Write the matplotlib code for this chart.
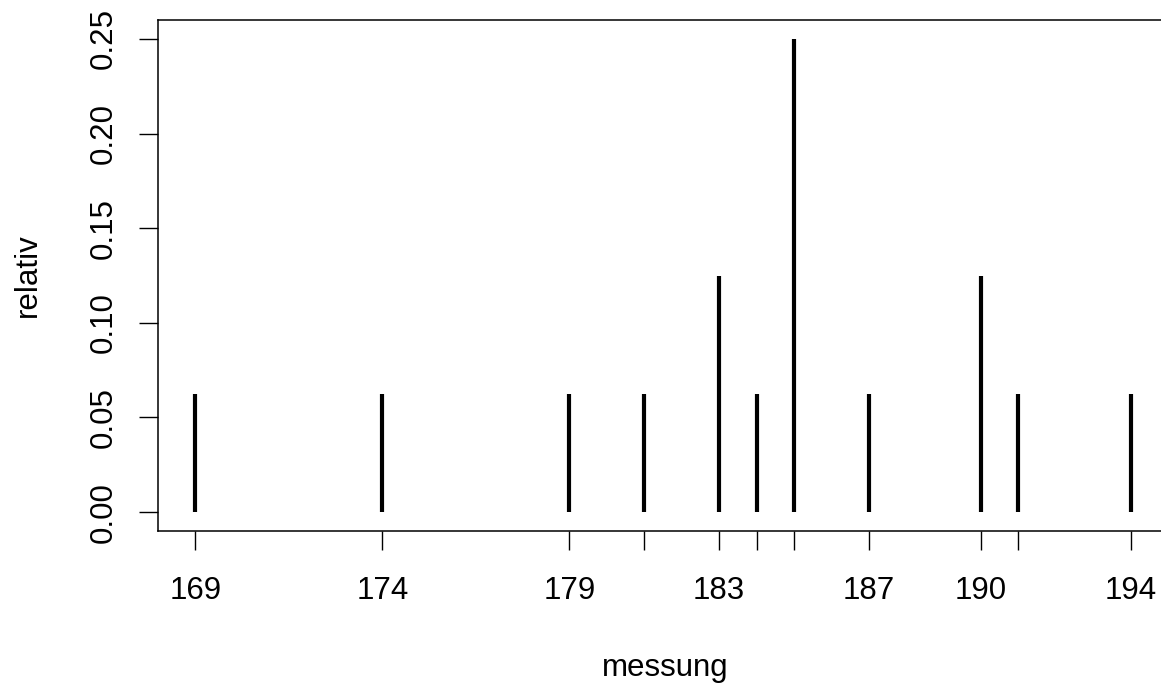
import numpy as np
import matplotlib
matplotlib.use("Agg")
from matplotlib import pyplot as plt

# messwerte und relative haeufigkeiten
messung = [169, 174, 179, 181, 183, 184, 185, 187, 190, 191, 194]
anzahl = [1, 1, 1, 1, 2, 1, 4, 1, 2, 1, 1]
beschriftet = [169, 174, 179, 183, 187, 190, 194]
y_ticks = [0.00, 0.05, 0.10, 0.15, 0.20, 0.25]


def main():
    relativ = np.array(anzahl) / sum(anzahl)

    plt.rcParams['font.family'] = ['Liberation Sans', 'DejaVu Sans']
    fig = plt.figure(figsize=(11.61, 6.85), dpi=100)
    ax = fig.add_axes([158 / 1161, 154 / 685, 1010 / 1161, 511 / 685])

    ax.vlines(messung, 0, relativ, colors='black', linewidth=3.0,
              capstyle='butt')

    ax.set_xlim(168, 195)
    ax.set_ylim(-0.01, 0.26)

    ax.set_xticks(messung)
    ax.set_xticklabels([str(m) if m in beschriftet else '' for m in messung])
    ax.set_yticks(y_ticks)
    ax.set_yticklabels(['%.2f' % v for v in y_ticks], rotation=90,
                       va='center')

    ax.tick_params(axis='both', length=14, width=1.0, labelsize=22.5,
                   direction='out', color='black')
    ax.tick_params(axis='x', pad=18.5)
    ax.tick_params(axis='y', pad=14)
    for sp in ax.spines.values():
        sp.set_linewidth(1.1)

    fig.text(665 / 1161, 1 - 668 / 685, 'messung', ha='center', va='center',
             fontsize=22.5)
    fig.text(28 / 1161, 1 - 275 / 685, 'relativ', ha='center', va='center',
             rotation=90, fontsize=22.5)

    fig.savefig('out.png', dpi=100)


if __name__ == "__main__":
    main()
